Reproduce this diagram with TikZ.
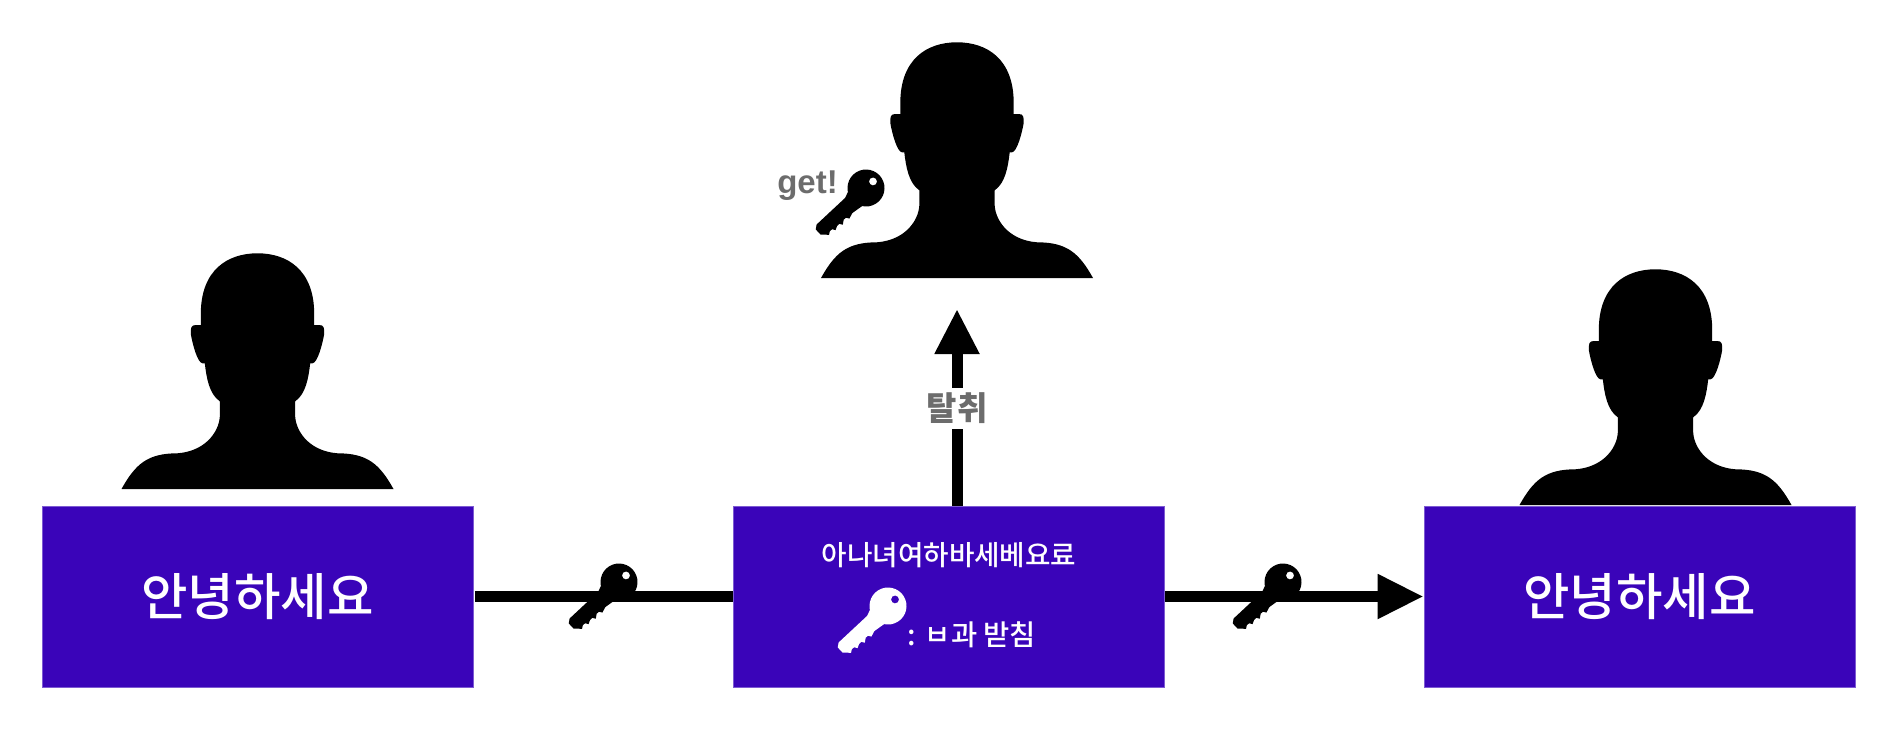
\documentclass[tikz,border=0pt]{standalone}
\usepackage{fontspec}
\setmainfont{Noto Sans CJK KR}
\newfontfamily\medkr{Noto Sans CJK KR Medium}
\newfontfamily\latinbold{Liberation Sans}[BoldFont={Liberation Sans Bold}]
\usetikzlibrary{arrows.meta}
\definecolor{boxpurple}{HTML}{3A04B9}
\definecolor{boxedge}{HTML}{7D5AD2}
\definecolor{labelgrey}{HTML}{6C6C6C}
\tikzset{
  x=1pt,y=-1pt,
  purplebox/.style={fill=boxpurple,draw=boxedge,line width=0.8pt,minimum width=431pt,minimum height=181pt,inner sep=0pt,text=white},
  wire/.style={line width=11pt,black},
  person/.pic={
    \fill[black] (0,-235.7) .. controls (30,-235.7) and (56.7,-219) .. (56.7,-175)
      -- (56.7,-164) -- (61.7,-164) .. controls (66.7,-164) and (66.7,-161) .. (66.7,-155)
      .. controls (65,-145) and (60,-126) .. (55,-125.7) -- (52.7,-125.7)
      .. controls (51,-111) and (48.3,-95) .. (37.7,-87.7)
      -- (37.7,-75) .. controls (37,-60) and (50,-38) .. (80,-35.7)
      .. controls (110,-35.7) and (122,-25) .. (136,0)
      -- (-136,0)
      .. controls (-122,-25) and (-110,-35.7) .. (-80,-35.7)
      .. controls (-50,-38) and (-37,-60) .. (-37.7,-75)
      -- (-37.7,-87.7) .. controls (-48.3,-95) and (-51,-111) .. (-52.7,-125.7)
      -- (-55,-125.7) .. controls (-60,-126) and (-65,-145) .. (-66.7,-155)
      .. controls (-66.7,-161) and (-66.7,-164) .. (-61.7,-164) -- (-56.7,-164)
      -- (-56.7,-175) .. controls (-56.7,-219) and (-30,-235.7) .. (0,-235.7) -- cycle;
  },
  keyshape/.pic={
    \path[pic actions,even odd rule] (0,0) circle[radius=18.5] (-9.6,0) circle[radius=4];
    \path[pic actions] (12,11) -- (22,7) -- (61,7) -- (65,4) -- (65,-3) -- (62,-6) -- (59,-9) -- (56,-7)
      -- (53,-7) -- (51,-10) -- (47,-8) -- (44,-8) -- (42,-11) -- (38,-8) -- (35,-8)
      -- (33,-11) -- (27,-9) -- (12,-11) -- cycle;
  }
}
\begin{document}
\begin{tikzpicture}
\useasboundingbox (0,0) rectangle (1884,736);
\node[purplebox,font=\medkr\fontsize{50.5pt}{54pt}\selectfont] (left) at (257.5,596.5) {안녕하세요};
\node[purplebox] (middle) at (948.5,596.5) {};
\node[purplebox,font=\medkr\fontsize{50.5pt}{54pt}\selectfont] (right) at (1639.5,596.5) {안녕하세요};
\node[text=white,font=\medkr\fontsize{27.7pt}{30pt}\selectfont,inner sep=0pt] (mtext) at (949,555) {아나녀여하바세베요료};
\node[text=white,font=\medkr\fontsize{28.5pt}{30pt}\selectfont,inner sep=0pt] (ktext) at (972,635) {: ㅂ과 받침};
\coordinate (loot) at (957,309);
\draw[wire,shorten <=2pt] (left.east) -- (middle.west);
\draw[wire,shorten <=1pt,-{Triangle[length=46pt,width=42pt]}] (middle.east) -- (right.west);
\draw[wire,-{Triangle[length=45pt,width=42pt]}] (middle.north -| loot) -- (loot)
  node[pos=0.495,fill=white,text=labelgrey,inner xsep=1pt,inner ysep=0pt,minimum height=41pt,font=\fontsize{33pt}{36pt}\selectfont\bfseries] (steal) {탈취};
\pic at (257.5,489) {person};
\pic at (957,278) {person};
\pic at (1655.5,505) {person};
\pic[fill=black,rotate=223] at (619,582) {keyshape};
\pic[fill=black,rotate=223] at (1283,582) {keyshape};
\pic[fill=black,rotate=223] at (866,188) {keyshape};
\pic[fill=white,rotate=223] at (888,606) {keyshape};
\node[text=labelgrey,font=\latinbold\fontsize{33pt}{36pt}\selectfont\bfseries,inner sep=0pt,anchor=base] (got) at (807.5,193) {get!};
\end{tikzpicture}
\end{document}
